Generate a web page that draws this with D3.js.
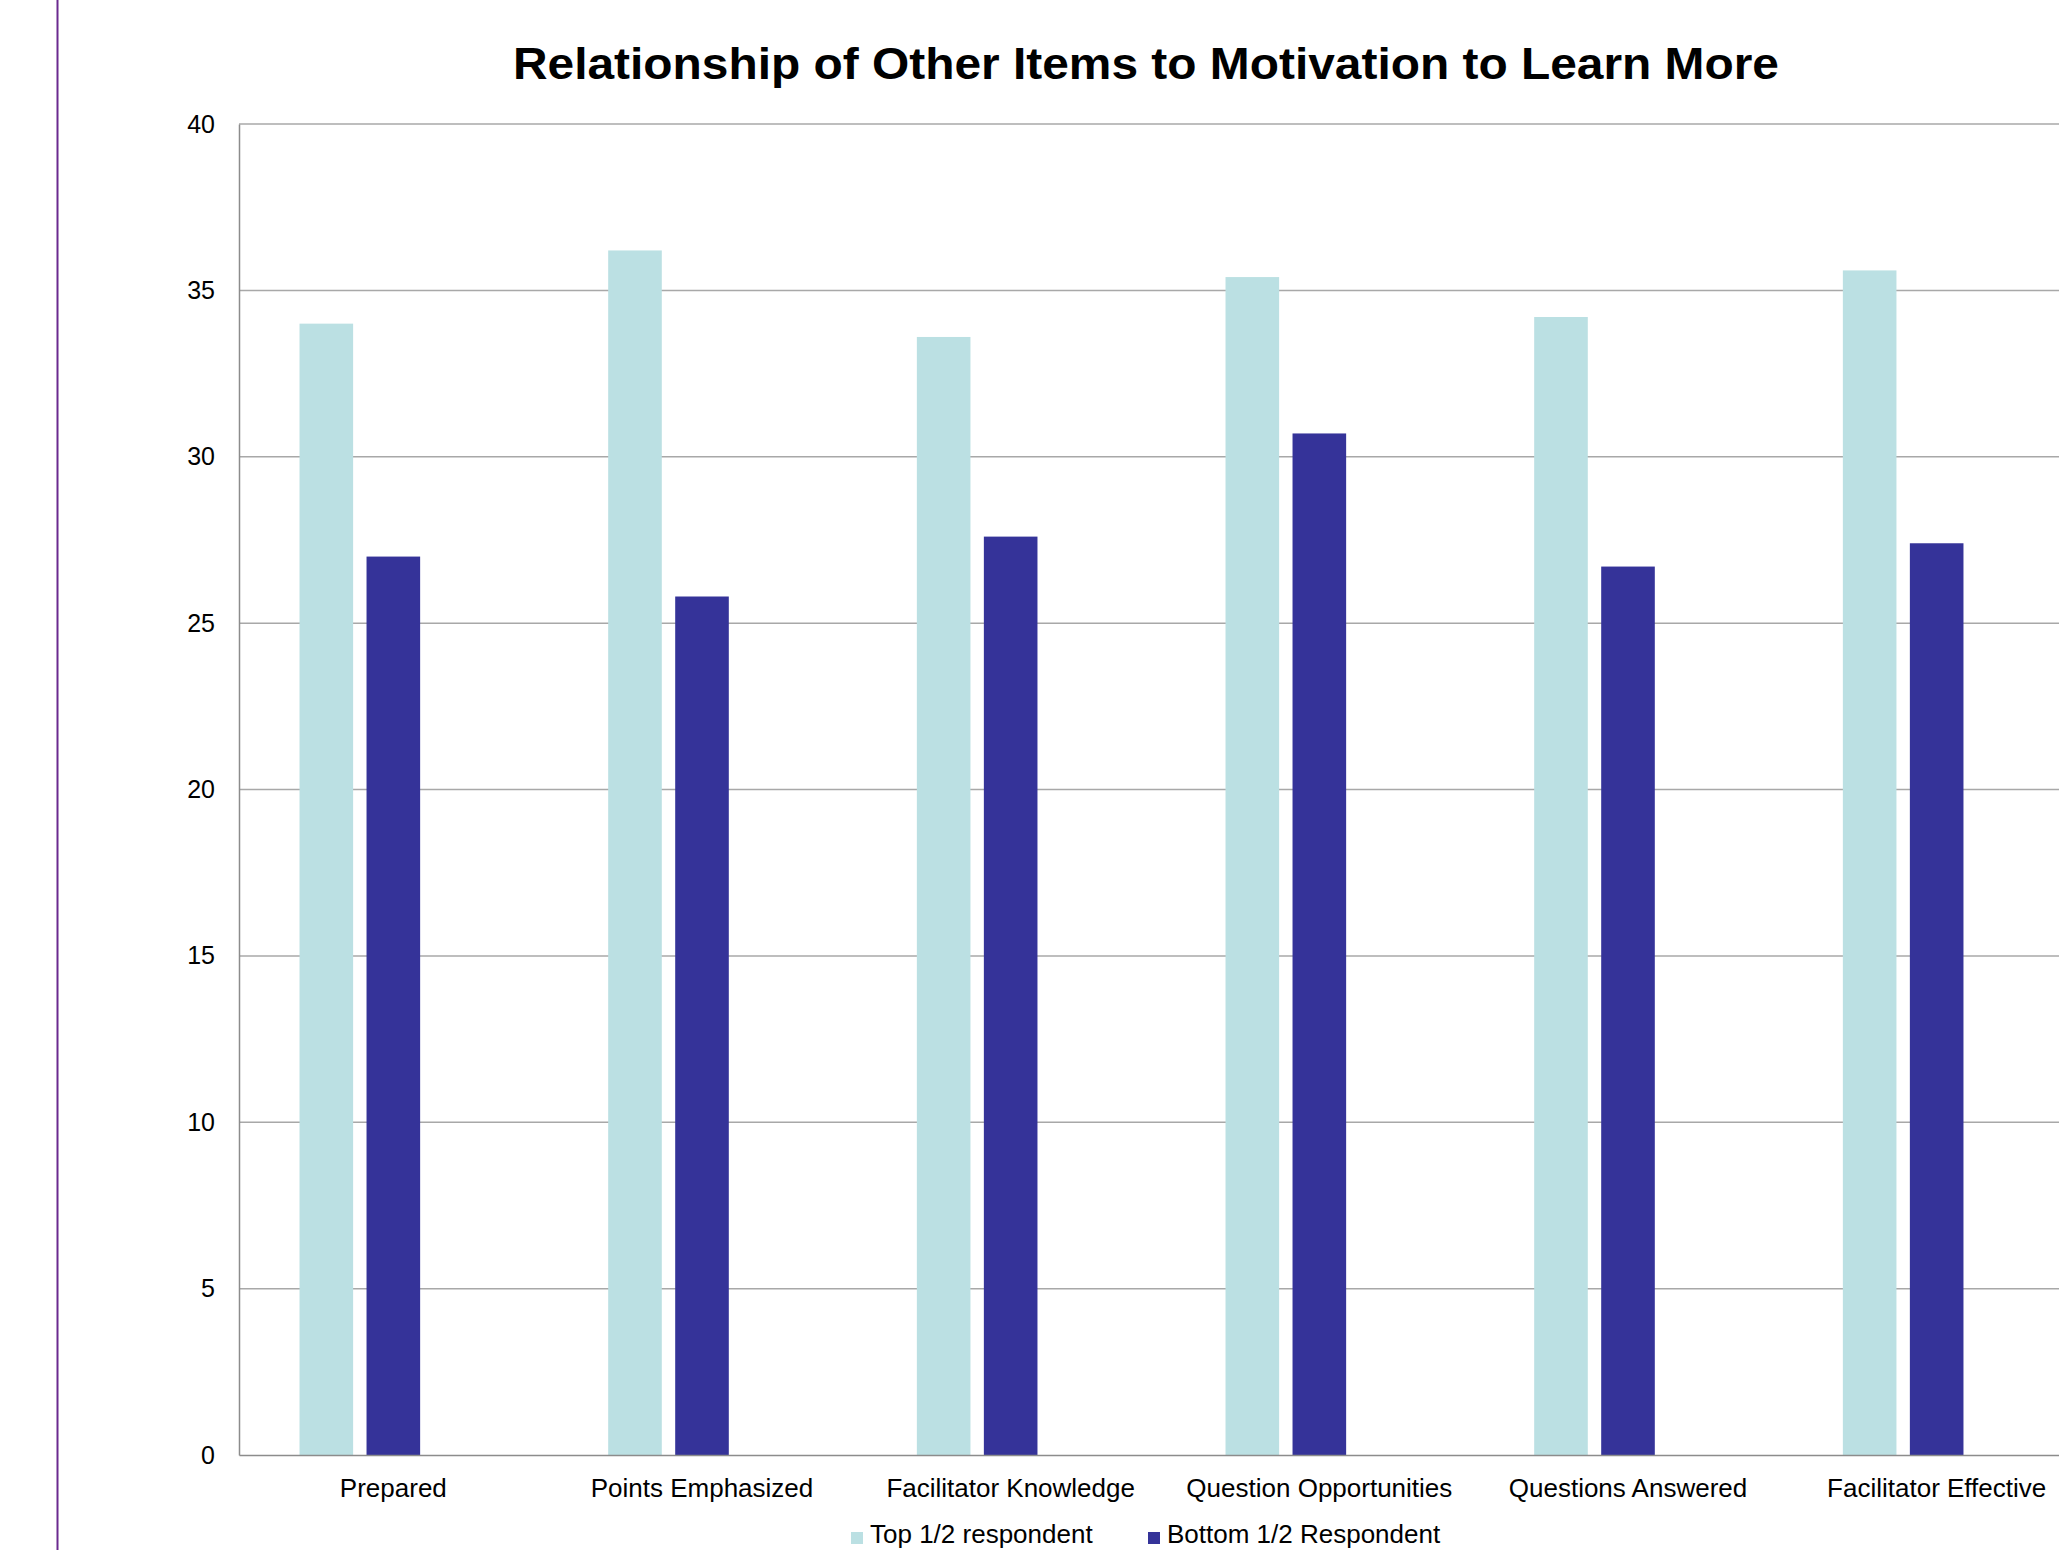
<!DOCTYPE html>
<html>
<head>
<meta charset="utf-8">
<script src="https://cdn.jsdelivr.net/npm/d3@7"></script>
<style>
  html, body { margin: 0; padding: 0; background: #fff; overflow: hidden; }
  svg { display: block; font-family: "Liberation Sans", Arial, sans-serif; }
</style>
</head>
<body>
<svg id="chart" width="2059" height="1550"></svg>
<script>
const categories = ["Prepared", "Points Emphasized", "Facilitator Knowledge", "Question Opportunities", "Questions Answered", "Facilitator Effective"];
const seriesNames = ["Top 1/2 respondent", "Bottom 1/2 Respondent"];
const topValues = [34.0, 36.2, 33.6, 35.4, 34.2, 35.6];
const bottomValues = [27.0, 25.8, 27.6, 30.7, 26.7, 27.4];
const yTicks = [0, 5, 10, 15, 20, 25, 30, 35, 40];
const colors = ["#BBE0E3", "#353399"];
const titleText = "Relationship of Other Items to Motivation to Learn More";

const svg = d3.select("#chart");
const W = 2059, H = 1550;
const margin = { left: 239, top: 124, bottom: 1455 };
const plotRight = 2091;

svg.append("rect").attr("width", W).attr("height", H).attr("fill", "#fff");

// left decorative purple rule
svg.append("line").attr("x1", 57.5).attr("x2", 57.5).attr("y1", 0).attr("y2", H)
  .attr("stroke", "#6B2A8F").attr("stroke-width", 2);

const x = d3.scaleBand().domain(categories).range([margin.left, plotRight]).paddingInner(0).paddingOuter(0);
// three cluster slots (third slot is empty in the original chart)
const xInner = d3.scaleBand().domain([...seriesNames, "_empty"]).range([0, x.bandwidth()])
  .paddingInner(0.2).paddingOuter(0.903);
const y = d3.scaleLinear().domain([0, 40]).range([margin.bottom, margin.top]);

// gridlines
svg.append("g").selectAll("line").data(yTicks.filter(d => d > 0)).join("line")
  .attr("x1", margin.left).attr("x2", plotRight)
  .attr("y1", d => y(d)).attr("y2", d => y(d))
  .attr("stroke", "#A8A8A8").attr("stroke-width", 1.5);

// bars
const data = categories.map((c, i) => ({ cat: c, vals: [topValues[i], bottomValues[i]] }));
const groups = svg.append("g").selectAll("g").data(data).join("g")
  .attr("transform", d => `translate(${x(d.cat)},0)`);
groups.selectAll("rect").data(d => d.vals.map((v, j) => ({ key: seriesNames[j], v, j }))).join("rect")
  .attr("x", d => xInner(d.key))
  .attr("width", xInner.bandwidth())
  .attr("y", d => y(d.v))
  .attr("height", d => y(0) - y(d.v))
  .attr("fill", d => colors[d.j]);

// y axis
const yAxis = svg.append("g").attr("transform", `translate(${margin.left},0)`)
  .call(d3.axisLeft(y).tickValues(yTicks).tickSize(0).tickPadding(24));
yAxis.select(".domain").attr("stroke", "#8C8C8C").attr("stroke-width", 1.5);
yAxis.selectAll("text").attr("font-size", 25).attr("fill", "#000")
  .attr("font-family", "Liberation Sans, Arial, sans-serif");

// x axis
const xAxis = svg.append("g").attr("transform", `translate(0,${margin.bottom})`)
  .call(d3.axisBottom(x).tickSize(0).tickPadding(0));
xAxis.select(".domain").attr("stroke", "#8C8C8C").attr("stroke-width", 1.5);
xAxis.selectAll("text").attr("font-size", 26).attr("fill", "#000")
  .attr("font-family", "Liberation Sans, Arial, sans-serif")
  .attr("dy", null).attr("y", 41.5);

// title
svg.append("text").attr("x", 1146).attr("y", 79).attr("text-anchor", "middle")
  .attr("font-size", 44).attr("font-weight", "bold").attr("fill", "#000")
  .attr("textLength", 1266).attr("lengthAdjust", "spacingAndGlyphs")
  .text(titleText);

// legend
const legendItems = [
  { name: seriesNames[0], color: colors[0], sx: 851, tx: 870 },
  { name: seriesNames[1], color: colors[1], sx: 1148, tx: 1167 }
];
const lg = svg.append("g");
lg.selectAll("rect").data(legendItems).join("rect")
  .attr("x", d => d.sx).attr("y", 1532).attr("width", 12).attr("height", 12)
  .attr("fill", d => d.color);
lg.selectAll("text").data(legendItems).join("text")
  .attr("x", d => d.tx).attr("y", 1543).attr("font-size", 26).attr("fill", "#000")
  .text(d => d.name);
</script>
</body>
</html>
